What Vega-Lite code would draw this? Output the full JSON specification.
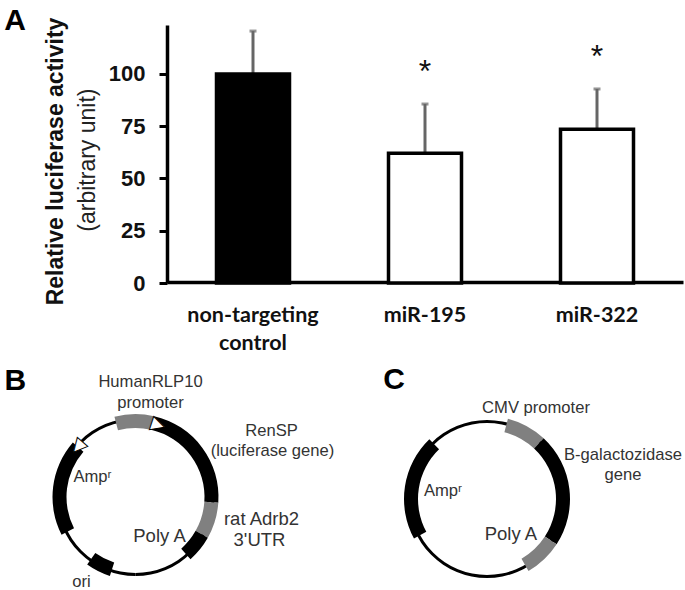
{
"$schema":"https://vega.github.io/schema/vega-lite/v6.json",
"width":685,"height":590,"padding":0,
"autosize":{"type":"fit","contains":"padding"},
"background":"white",
"config":{"view":{"stroke":null},"axis":{"grid":false}},
"datasets":{
"bars":[
{"group":"non-targeting control","value":100,"top":120.5},
{"group":"miR-195","value":62,"top":85.6},
{"group":"miR-322","value":73.5,"top":92.8}],
"stars":[
{"group":"miR-195","label":"*","value":101},
{"group":"miR-322","label":"*","value":108}],
"segments":[
{"plasmid":"B","start":0,"end":180,"kind":"line"},
{"plasmid":"B","start":180,"end":360,"kind":"line"},
{"plasmid":"C","start":0,"end":180,"kind":"line"},
{"plasmid":"C","start":180,"end":360,"kind":"line"},
{"plasmid":"B","start":345.3,"end":373,"kind":"gray"},
{"plasmid":"B","start":13,"end":94,"kind":"black"},
{"plasmid":"B","start":94,"end":119.4,"kind":"gray"},
{"plasmid":"B","start":119.4,"end":138.5,"kind":"black"},
{"plasmid":"B","start":198,"end":215.6,"kind":"black"},
{"plasmid":"B","start":243,"end":311,"kind":"black"},
{"plasmid":"C","start":14.6,"end":43,"kind":"gray"},
{"plasmid":"C","start":43,"end":123,"kind":"black"},
{"plasmid":"C","start":123,"end":150,"kind":"gray"},
{"plasmid":"C","start":241.6,"end":316,"kind":"black"}],
"labels":[
{"plasmid":"B","label":"B","pos":314,"dist":166.9,"role":"letter"},
{"plasmid":"C","label":"C","pos":322,"dist":151,"role":"letter"},
{"plasmid":"B","label":"HumanRLP10","pos":7.43,"dist":116,"role":"feature"},
{"plasmid":"B","label":"promoter","pos":9.07,"dist":95.2,"role":"feature"},
{"plasmid":"B","label":"RenSP","pos":64.1,"dist":151.2,"role":"feature"},
{"plasmid":"B","label":"(luciferase gene)","pos":71.4,"dist":144.5,"role":"feature"},
{"plasmid":"B","label":"Ampʳ","pos":294.9,"dist":47.4,"role":"feature"},
{"plasmid":"B","label":"ori","pos":212.4,"dist":100.7,"role":"feature"},
{"plasmid":"C","label":"CMV promoter","pos":28.3,"dist":103.4,"role":"feature"},
{"plasmid":"C","label":"B-galactozidase","pos":72.1,"dist":142.9,"role":"feature"},
{"plasmid":"C","label":"gene","pos":80,"dist":138.1,"role":"feature"},
{"plasmid":"C","label":"Ampʳ","pos":280.3,"dist":44.7,"role":"feature"},
{"plasmid":"B","label":"Poly A","pos":148.4,"dist":45.8,"role":"big"},
{"plasmid":"B","label":"rat Adrb2","pos":99.9,"dist":127.9,"role":"big"},
{"plasmid":"B","label":"3'UTR","pos":109.1,"dist":131.2,"role":"big"},
{"plasmid":"C","label":"Poly A","pos":145.6,"dist":42.4,"role":"big"},
{"plasmid":"B","label":"▶","pos":17.5,"heading":18,"dist":75.5,"role":"arrow"},
{"plasmid":"B","label":"▶","pos":311,"heading":131,"dist":76,"role":"arrow"}]
},
"layer":[
{
"encoding":{
"x":{"field":"group","type":"nominal","sort":null,"scale":{"type":"band","domain":["non-targeting control","miR-195","miR-322"],"range":[167,683],"paddingInner":0,"paddingOuter":0}},
"y":{"field":"value","type":"quantitative","scale":{"domain":[0,123.4],"range":[283,25],"nice":false}}
},
"layer":[
{"data":{"name":"bars"},"mark":{"type":"rule","stroke":"#666666","strokeWidth":3},"encoding":{"y":{"field":"value","type":"quantitative"},"y2":{"field":"top"}}},
{"data":{"name":"bars"},"mark":{"type":"tick","color":"#666666","thickness":3,"size":7},"encoding":{"y":{"field":"top","type":"quantitative"}}},
{"data":{"name":"bars"},"mark":{"type":"bar","size":73,"stroke":"black","strokeWidth":3.5},
"encoding":{
"x":{"field":"group","type":"nominal","axis":{"orient":"bottom","offset":-307,"title":null,"domainColor":"black","domainWidth":3.5,"ticks":false,"labelAngle":0,"labelAlign":"center","labelBaseline":"top","labelFont":"Lato","labelFontWeight":"bold","labelFontSize":21.5,"labelColor":"#111111","labelPadding":22,"labelLineHeight":28,"labelExpr":"split(datum.label === 'non-targeting control' ? 'non-targeting|control' : datum.label, '|')"}},
"y":{"field":"value","type":"quantitative","axis":{"orient":"left","offset":-167,"values":[0,25,50,75,100],"domainColor":"black","domainWidth":3.5,"tickColor":"black","tickWidth":3,"tickSize":8,"labelFont":"Liberation Sans","labelFontWeight":"bold","labelFontSize":22,"labelColor":"#111111","labelPadding":14,"title":"Relative luciferase activity","titleFont":"Liberation Sans","titleFontWeight":"bold","titleFontSize":23,"titleColor":"#111111","titleAngle":-90,"titleX":-112,"titleY":161,"titleAlign":"center","titleBaseline":"middle"}},
"fill":{"field":"group","type":"nominal","scale":{"domain":["non-targeting control","miR-195","miR-322"],"range":["black","white","white"]},"legend":null}
}},
{"data":{"name":"stars"},"mark":{"type":"text","font":"Liberation Sans","fontSize":32,"color":"#111111","baseline":"middle","align":"center"},"encoding":{"text":{"field":"label"}}},
{"data":{"values":[{"group":"non-targeting control","value":58.8,"label":"(arbitrary unit)"}]},"mark":{"type":"text","font":"Liberation Sans","fontSize":23,"color":"#222222","angle":270,"dy":-165,"align":"center","baseline":"middle"},"encoding":{"text":{"field":"label"}}},
{"data":{"values":[{"group":"non-targeting control","value":123,"label":"A"}]},"mark":{"type":"text","font":"Liberation Sans","fontWeight":"bold","fontSize":30,"color":"black","dx":-238,"dy":-5,"align":"center","baseline":"middle"},"encoding":{"text":{"field":"label"}}}
]
},
{
"encoding":{
"x":{"field":"plasmid","type":"nominal","axis":null,"scale":{"type":"point","domain":["B","C"],"range":[135.5,487],"padding":0}},
"y":{"field":"plasmid","type":"nominal","axis":null,"scale":{"type":"point","domain":["B","C"],"range":[497,499],"padding":0}}
},
"layer":[
{"data":{"name":"segments"},"transform":[{"filter":"datum.kind === 'line'"}],"mark":{"type":"arc","radius":79,"radius2":76},
"encoding":{"theta":{"field":"start","type":"quantitative","stack":null,"scale":{"domain":[0,360],"range":[0,6.28318]}},"theta2":{"field":"end"},
"fill":{"field":"kind","type":"nominal","scale":{"domain":["line","black","gray"],"range":["#000000","#000000","#808080"]},"legend":null}}},
{"data":{"name":"segments"},"transform":[{"filter":"datum.kind !== 'line'"}],"mark":{"type":"arc","radius":83,"radius2":69},
"encoding":{"theta":{"field":"start","type":"quantitative","stack":null,"scale":{"domain":[0,360],"range":[0,6.28318]}},"theta2":{"field":"end"},
"fill":{"field":"kind","type":"nominal","scale":{"domain":["line","black","gray"],"range":["#000000","#000000","#808080"]},"legend":null}}},
{"data":{"name":"labels"},"transform":[{"filter":"datum.role === 'feature'"}],"mark":{"type":"text","font":"Liberation Sans","fontSize":16.6,"color":"#333333","align":"center","baseline":"middle"},
"encoding":{"theta":{"field":"pos","type":"quantitative","stack":null,"scale":{"domain":[0,360],"range":[0,6.28318]}},"radius":{"field":"dist","type":"quantitative","scale":{"type":"linear","domain":[0,200],"range":[0,200]}},"text":{"field":"label"}}},
{"data":{"name":"labels"},"transform":[{"filter":"datum.role === 'big'"}],"mark":{"type":"text","font":"Liberation Sans","fontSize":18.5,"color":"#333333","align":"center","baseline":"middle"},
"encoding":{"theta":{"field":"pos","type":"quantitative","stack":null,"scale":{"domain":[0,360],"range":[0,6.28318]}},"radius":{"field":"dist","type":"quantitative","scale":{"type":"linear","domain":[0,200],"range":[0,200]}},"text":{"field":"label"}}},
{"data":{"name":"labels"},"transform":[{"filter":"datum.role === 'letter'"}],"mark":{"type":"text","font":"Liberation Sans","fontWeight":"bold","fontSize":30,"color":"black","align":"center","baseline":"middle"},
"encoding":{"theta":{"field":"pos","type":"quantitative","stack":null,"scale":{"domain":[0,360],"range":[0,6.28318]}},"radius":{"field":"dist","type":"quantitative","scale":{"type":"linear","domain":[0,200],"range":[0,200]}},"text":{"field":"label"}}},
{"data":{"name":"labels"},"transform":[{"filter":"datum.role === 'arrow'"}],"mark":{"type":"text","font":"DejaVu Sans","fontSize":18,"fill":"white","stroke":"black","strokeWidth":1,"align":"center","baseline":"middle"},
"encoding":{"theta":{"field":"pos","type":"quantitative","stack":null,"scale":{"domain":[0,360],"range":[0,6.28318]}},"radius":{"field":"dist","type":"quantitative","scale":{"type":"linear","domain":[0,200],"range":[0,200]}},"angle":{"field":"heading","type":"quantitative","scale":null},"text":{"field":"label"}}}
]
}
],
"resolve":{"scale":{"x":"independent","y":"independent","theta":"independent","radius":"independent","fill":"independent"},"axis":{"x":"independent","y":"independent"}}
}
